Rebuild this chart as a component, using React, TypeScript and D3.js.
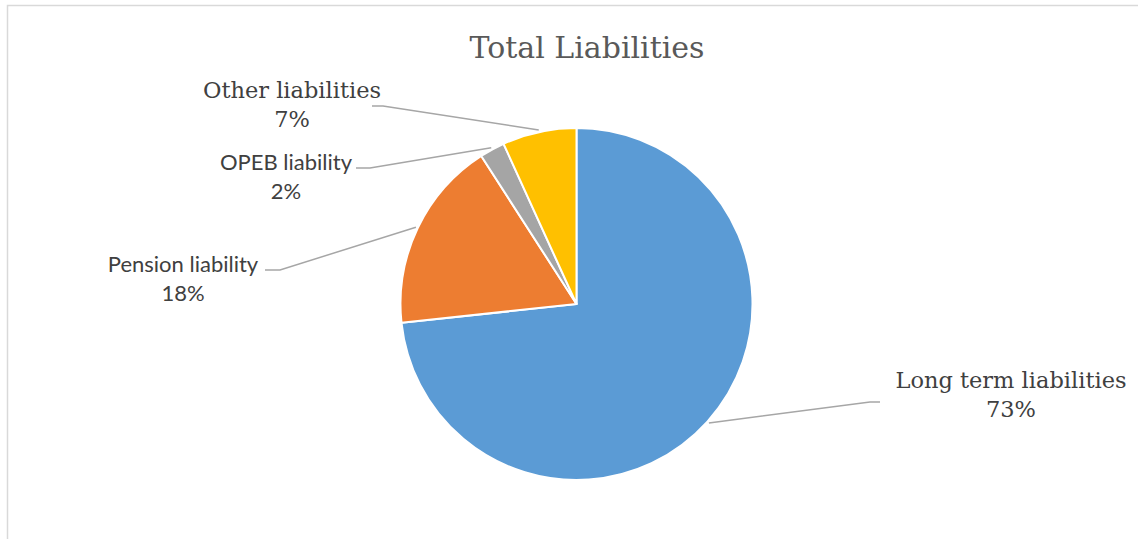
import React from "react";
import * as d3 from "d3";

const categories = ["Long term liabilities", "Pension liability", "OPEB liability", "Other liabilities"];
const values = [73.3, 17.6, 2.3, 6.8];
const colors = ["#5B9BD5", "#ED7D31", "#A5A5A5", "#FFC000"];
const labelFonts = ["serif", "sans", "sans", "serif"];
const title = "Total Liabilities";

// layout (label anchor centers and leader elbows)
const labelLayout = [
  { x: 1011, y: 388, elbowX: 870, elbowY: 402, endX: 880 },
  { x: 183, y: 272, elbowX: 280, elbowY: 270, endX: 265 },
  { x: 286, y: 170, elbowX: 370, elbowY: 168, endX: 356 },
  { x: 292, y: 98, elbowX: 383, elbowY: 106, endX: 372 },
];

const W = 1138;
const H = 539;
const cx = 576.5;
const cy = 304;
const R = 176;

const SERIF = "'DejaVu Serif', serif";
const SANS = "Lato, 'Open Sans', sans-serif";

export default function App() {
  const total = d3.sum(values);
  const pie = d3
    .pie<number>()
    .sort(null)
    .value((d) => d)
    .startAngle(0)
    .endAngle(2 * Math.PI);
  const arcs = pie(values);
  const arc = d3.arc<d3.PieArcDatum<number>>().innerRadius(0).outerRadius(R);
  const fmt = d3.format(".0%");

  return (
    <div style={{ position: "absolute", left: 0, top: 0 }}>
      <svg width={W} height={H} style={{ display: "block" }}>
        <rect x={0} y={0} width={W} height={H} fill="#ffffff" />
        <rect x={7.5} y={5.5} width={W + 20} height={H + 20} fill="none" stroke="#d9d9d9" strokeWidth={1.5} />
        <text x={587} y={58} textAnchor="middle" fontFamily={SERIF} fontSize={30} fill="#595959">
          {title}
        </text>
        <g transform={`translate(${cx},${cy})`}>
          {arcs.map((a, i) => (
            <path key={i} d={arc(a) || ""} fill={colors[i]} stroke="#ffffff" strokeWidth={2} strokeLinejoin="round" />
          ))}
        </g>
        {arcs.map((a, i) => {
          const mid = (a.startAngle + a.endAngle) / 2;
          const px = cx + Math.sin(mid) * (R + 2);
          const py = cy - Math.cos(mid) * (R + 2);
          const L = labelLayout[i];
          return (
            <polyline
              key={"l" + i}
              points={`${px},${py} ${L.elbowX},${L.elbowY} ${L.endX},${L.elbowY}`}
              fill="none"
              stroke="#a6a6a6"
              strokeWidth={1.5}
            />
          );
        })}
        {arcs.map((a, i) => {
          const L = labelLayout[i];
          const serif = labelFonts[i] === "serif";
          return (
            <text
              key={"t" + i}
              x={L.x}
              y={L.y}
              textAnchor="middle"
              fontFamily={serif ? SERIF : SANS}
              fontSize={serif ? 22.5 : 22}
              fill="#404040"
            >
              <tspan x={L.x}>{categories[i]}</tspan>
              <tspan x={L.x} dy={29}>
                {fmt(values[i] / total)}
              </tspan>
            </text>
          );
        })}
      </svg>
    </div>
  );
}
